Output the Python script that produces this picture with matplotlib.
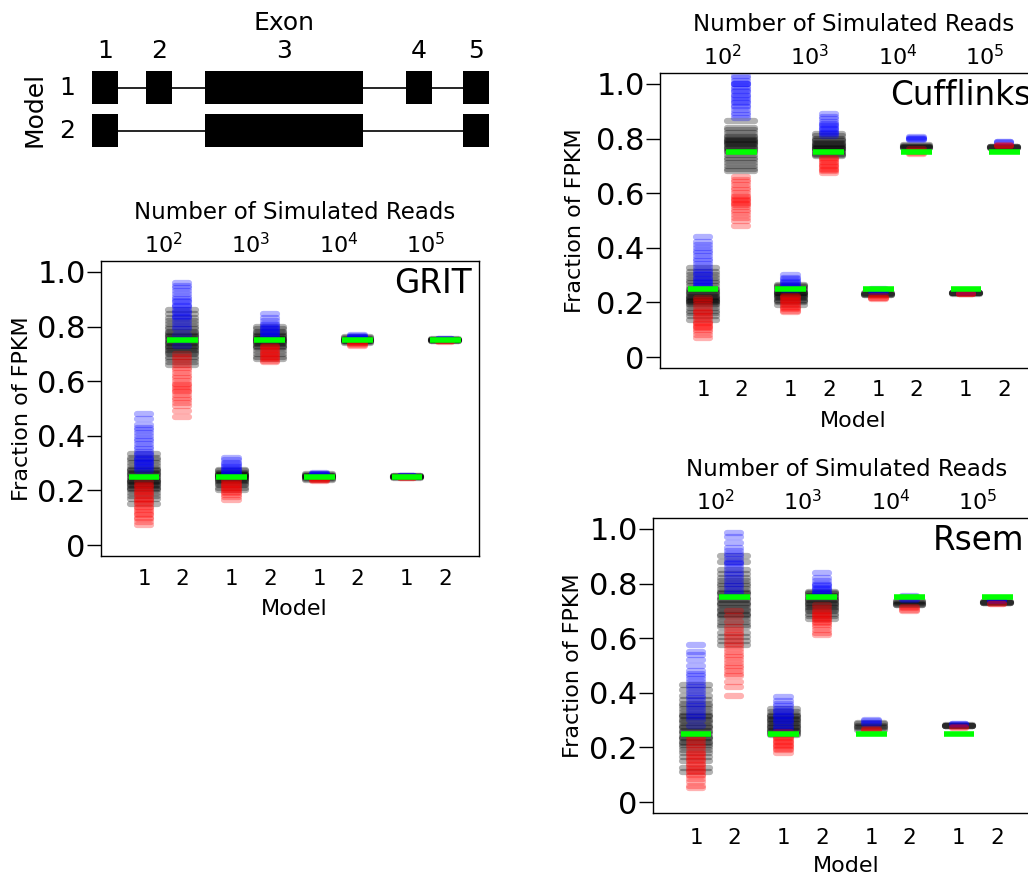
import numpy as np
import matplotlib.pyplot as plt

reads_exp = [2, 3, 4, 5]
model_names = ['1', '2']
truth = [0.25, 0.75]

# gene structure (relative coordinates)
exon_starts = [0, 54, 113, 314, 371]
exon_ends = [26, 80, 271, 340, 397]
model_exons = [[1, 2, 3, 4, 5], [1, 3, 5]]

# estimates (black), upper bounds (blue), lower bounds (red)
# order: 10^2 m1, 10^2 m2, 10^3 m1, 10^3 m2, 10^4 m1, 10^4 m2, 10^5 m1, 10^5 m2
grit_black = [
    [0.15, 0.17, 0.18, 0.19, 0.20, 0.205, 0.21, 0.215, 0.22, 0.225, 0.23, 0.232, 0.235, 0.24, 0.245,
     0.25, 0.255, 0.26, 0.265, 0.27, 0.275, 0.28, 0.29, 0.30, 0.31, 0.32, 0.335],
    [0.66, 0.67, 0.68, 0.69, 0.70, 0.705, 0.71, 0.715, 0.72, 0.725, 0.73, 0.735, 0.74, 0.745, 0.75,
     0.755, 0.76, 0.765, 0.77, 0.775, 0.78, 0.79, 0.80, 0.81, 0.82, 0.83, 0.845, 0.86],
    [0.20, 0.21, 0.22, 0.225, 0.23, 0.235, 0.24, 0.242, 0.245, 0.248, 0.25, 0.252, 0.255, 0.258,
     0.26, 0.265, 0.27, 0.275],
    [0.68, 0.69, 0.70, 0.71, 0.72, 0.725, 0.73, 0.735, 0.74, 0.743, 0.746, 0.75, 0.753, 0.756, 0.76,
     0.765, 0.77, 0.775, 0.78, 0.79, 0.80],
    [0.24, 0.243, 0.246, 0.248, 0.25, 0.252, 0.254, 0.257, 0.26],
    [0.74, 0.743, 0.746, 0.748, 0.75, 0.752, 0.754, 0.757, 0.76],
    [0.247, 0.248, 0.249, 0.25, 0.251, 0.252, 0.253],
    [0.747, 0.748, 0.749, 0.75, 0.751, 0.752, 0.753],
]
grit_blue = [
    [0.27, 0.28, 0.285, 0.29, 0.295, 0.30, 0.305, 0.31, 0.315, 0.32, 0.33, 0.335, 0.34, 0.35, 0.36,
     0.37, 0.38, 0.39, 0.40, 0.41, 0.42, 0.43, 0.44, 0.46, 0.48],
    [0.73, 0.75, 0.77, 0.79, 0.80, 0.81, 0.82, 0.83, 0.835, 0.84, 0.85, 0.855, 0.86, 0.87, 0.875,
     0.88, 0.89, 0.895, 0.90, 0.91, 0.92, 0.93, 0.94, 0.95, 0.96],
    [0.25, 0.255, 0.26, 0.265, 0.27, 0.275, 0.28, 0.285, 0.29, 0.295, 0.30, 0.31, 0.32],
    [0.75, 0.76, 0.765, 0.77, 0.775, 0.78, 0.785, 0.79, 0.795, 0.80, 0.805, 0.81, 0.82, 0.83, 0.845],
    [0.255, 0.258, 0.26, 0.262, 0.265],
    [0.755, 0.758, 0.76, 0.763, 0.767, 0.77],
    [0.252, 0.253, 0.254],
    [0.752, 0.754, 0.755],
]
grit_red = [
    [0.075, 0.085, 0.095, 0.10, 0.11, 0.115, 0.12, 0.13, 0.135, 0.14, 0.15, 0.155, 0.16, 0.165, 0.17,
     0.18, 0.185, 0.19, 0.195, 0.20, 0.21, 0.215, 0.22, 0.23],
    [0.47, 0.49, 0.51, 0.52, 0.53, 0.54, 0.55, 0.56, 0.565, 0.57, 0.58, 0.585, 0.59, 0.60, 0.61,
     0.62, 0.63, 0.64, 0.65, 0.66, 0.67, 0.68, 0.69, 0.70],
    [0.165, 0.175, 0.185, 0.19, 0.195, 0.20, 0.205, 0.21, 0.215, 0.22, 0.225, 0.23, 0.24],
    [0.67, 0.675, 0.68, 0.685, 0.69, 0.695, 0.70, 0.705, 0.71, 0.715, 0.72, 0.725, 0.73],
    [0.235, 0.238, 0.24, 0.242, 0.245],
    [0.73, 0.733, 0.736, 0.74, 0.743],
    [0.246, 0.247, 0.248],
    [0.745, 0.746, 0.747],
]

cuff_black = [
    [0.135, 0.15, 0.16, 0.17, 0.18, 0.19, 0.195, 0.20, 0.203, 0.206, 0.21, 0.213, 0.216, 0.22, 0.225,
     0.23, 0.235, 0.24, 0.245, 0.25, 0.26, 0.27, 0.28, 0.29, 0.30, 0.31, 0.325],
    [0.68, 0.69, 0.70, 0.71, 0.72, 0.73, 0.74, 0.75, 0.755, 0.76, 0.765, 0.77, 0.775, 0.78, 0.783,
     0.786, 0.79, 0.795, 0.80, 0.805, 0.81, 0.82, 0.83, 0.84, 0.865],
    [0.19, 0.20, 0.205, 0.21, 0.215, 0.22, 0.223, 0.226, 0.23, 0.233, 0.236, 0.24, 0.245, 0.25,
     0.255, 0.26, 0.265],
    [0.735, 0.74, 0.745, 0.75, 0.755, 0.76, 0.763, 0.766, 0.77, 0.773, 0.776, 0.78, 0.785, 0.79,
     0.795, 0.80, 0.81, 0.815],
    [0.226, 0.228, 0.23, 0.232, 0.234],
    [0.764, 0.766, 0.768, 0.77, 0.772, 0.775],
    [0.232, 0.233, 0.234, 0.235, 0.236],
    [0.766, 0.767, 0.768, 0.769, 0.77],
]
cuff_blue = [
    [0.255, 0.26, 0.265, 0.27, 0.275, 0.28, 0.285, 0.29, 0.30, 0.305, 0.31, 0.32, 0.33, 0.34, 0.35,
     0.36, 0.37, 0.38, 0.39, 0.40, 0.41, 0.42, 0.44],
    [0.875, 0.885, 0.895, 0.905, 0.915, 0.92, 0.93, 0.935, 0.94, 0.95, 0.955, 0.96, 0.97, 0.975,
     0.98, 0.99, 1.0, 1.0, 1.0, 1.01, 1.02, 1.03],
    [0.245, 0.25, 0.255, 0.26, 0.265, 0.27, 0.275, 0.28, 0.285, 0.29, 0.30],
    [0.81, 0.815, 0.82, 0.825, 0.83, 0.835, 0.84, 0.845, 0.85, 0.855, 0.86, 0.87, 0.88, 0.89],
    [0.24, 0.243, 0.246, 0.25],
    [0.795, 0.798, 0.80, 0.803, 0.806],
    [0.236, 0.237, 0.238],
    [0.785, 0.787, 0.789],
]
cuff_red = [
    [0.07, 0.08, 0.09, 0.10, 0.105, 0.11, 0.115, 0.12, 0.125, 0.13, 0.14, 0.145, 0.15, 0.16, 0.165,
     0.17, 0.18, 0.19, 0.20, 0.21, 0.215],
    [0.48, 0.50, 0.51, 0.52, 0.53, 0.54, 0.55, 0.555, 0.56, 0.565, 0.57, 0.575, 0.58, 0.585, 0.59,
     0.60, 0.61, 0.62, 0.63, 0.64, 0.65, 0.66],
    [0.165, 0.17, 0.175, 0.18, 0.185, 0.19, 0.195, 0.20, 0.205, 0.21, 0.215, 0.22, 0.225],
    [0.675, 0.68, 0.685, 0.69, 0.695, 0.70, 0.705, 0.71, 0.715, 0.72, 0.725, 0.73],
    [0.212, 0.215, 0.218, 0.222],
    [0.745, 0.748, 0.752, 0.756, 0.76],
    [0.23, 0.231, 0.232],
    [0.772, 0.774, 0.776],
]

rsem_black = [
    [0.11, 0.125, 0.15, 0.165, 0.18, 0.19, 0.20, 0.21, 0.215, 0.22, 0.23, 0.235, 0.24, 0.25, 0.255,
     0.26, 0.27, 0.275, 0.28, 0.29, 0.295, 0.30, 0.31, 0.315, 0.32, 0.33, 0.34, 0.35, 0.36, 0.375,
     0.39, 0.41, 0.43],
    [0.575, 0.59, 0.605, 0.62, 0.64, 0.65, 0.66, 0.67, 0.68, 0.685, 0.69, 0.70, 0.705, 0.71, 0.72,
     0.725, 0.73, 0.74, 0.745, 0.75, 0.76, 0.765, 0.77, 0.78, 0.79, 0.80, 0.81, 0.82, 0.835, 0.85,
     0.88, 0.90],
    [0.245, 0.25, 0.255, 0.26, 0.265, 0.27, 0.275, 0.28, 0.285, 0.29, 0.295, 0.30, 0.305, 0.31,
     0.315, 0.32, 0.33, 0.34],
    [0.67, 0.68, 0.69, 0.70, 0.705, 0.71, 0.715, 0.72, 0.725, 0.73, 0.735, 0.74, 0.745, 0.75, 0.755,
     0.76, 0.765, 0.77],
    [0.265, 0.27, 0.275, 0.28, 0.285, 0.29],
    [0.72, 0.723, 0.726, 0.73, 0.733, 0.736],
    [0.277, 0.278, 0.279, 0.28, 0.281],
    [0.728, 0.729, 0.73, 0.731, 0.732],
]
rsem_blue = [
    [0.28, 0.30, 0.31, 0.32, 0.33, 0.34, 0.35, 0.36, 0.37, 0.38, 0.39, 0.40, 0.41, 0.42, 0.43, 0.44,
     0.45, 0.46, 0.47, 0.48, 0.50, 0.52, 0.54, 0.55, 0.575],
    [0.76, 0.77, 0.78, 0.79, 0.80, 0.81, 0.82, 0.83, 0.84, 0.85, 0.86, 0.87, 0.875, 0.88, 0.89, 0.90,
     0.91, 0.92, 0.93, 0.95, 0.97, 0.985],
    [0.265, 0.27, 0.28, 0.29, 0.295, 0.30, 0.31, 0.315, 0.32, 0.33, 0.335, 0.34, 0.35, 0.36, 0.37,
     0.385],
    [0.755, 0.76, 0.765, 0.77, 0.775, 0.78, 0.785, 0.79, 0.795, 0.80, 0.81, 0.82, 0.84],
    [0.285, 0.29, 0.295, 0.30],
    [0.74, 0.745, 0.75, 0.755],
    [0.283, 0.285, 0.287],
    [0.735, 0.737, 0.739],
]
rsem_red = [
    [0.05, 0.06, 0.075, 0.085, 0.095, 0.10, 0.11, 0.115, 0.12, 0.13, 0.135, 0.14, 0.15, 0.155, 0.16,
     0.17, 0.175, 0.18, 0.19, 0.20, 0.21, 0.22, 0.23, 0.24],
    [0.39, 0.42, 0.44, 0.46, 0.47, 0.48, 0.49, 0.50, 0.51, 0.52, 0.53, 0.54, 0.55, 0.56, 0.57, 0.58,
     0.59, 0.60, 0.61, 0.62, 0.63, 0.64, 0.66, 0.68, 0.70],
    [0.18, 0.19, 0.195, 0.20, 0.205, 0.21, 0.215, 0.22, 0.225, 0.23, 0.235, 0.24, 0.25, 0.255],
    [0.61, 0.62, 0.63, 0.64, 0.65, 0.655, 0.66, 0.665, 0.67, 0.675, 0.68, 0.685, 0.69, 0.695, 0.70,
     0.71, 0.72],
    [0.262, 0.265, 0.268],
    [0.70, 0.705, 0.71, 0.715],
    [0.272, 0.274],
    [0.724, 0.726],
]

W, H = 1028, 877
fig = plt.figure(figsize=(W / 100, H / 100), dpi=100)

# ---- gene model diagram ----
gax = fig.add_axes([92 / W, 1 - 160 / H, 397 / W, 100 / H])
gax.set_xlim(0, 397)
gax.set_ylim(2.686, 0.36)
gax.axis('off')
for row, exons in enumerate(model_exons, start=1):
    for a, b in zip(exons[:-1], exons[1:]):
        gax.plot([exon_ends[a - 1], exon_starts[b - 1]], [row, row], color='black', lw=1.2, zorder=1)
    for e in exons:
        gax.barh(row, exon_ends[e - 1] - exon_starts[e - 1], left=exon_starts[e - 1],
                 height=0.767, color='black', zorder=2)
    gax.text(-25, row, str(row), fontsize=18, ha='center', va='center', clip_on=False)
for i in range(len(exon_starts)):
    gax.text((exon_starts[i] + exon_ends[i]) / 2, 0.14, str(i + 1), fontsize=18,
             ha='center', va='center', clip_on=False)
gax.text((exon_starts[2] + exon_ends[2]) / 2, -0.5, 'Exon', fontsize=18,
         ha='center', va='center', clip_on=False)
gax.text(-57, 1.5, 'Model', fontsize=18, rotation=90, ha='center', va='center', clip_on=False)

ALPHA = 0.3


def draw_panel(left, top, name, black, blue, red, ylab_x, xpad):
    ax = fig.add_axes([left / W, 1 - (top + 295) / H, 378 / W, 295 / H])
    pos = []
    for i in range(8):
        g, m = divmod(i, 2)
        x = g * 2.3 + m
        pos.append(x)
        lc = ax.hlines(black[i], x - 0.365, x + 0.365, colors='black', lw=4.5, alpha=ALPHA)
        lc.set_capstyle('round')
        lc = ax.hlines(blue[i], x - 0.19, x + 0.19, colors='#0000ff', lw=4.5, alpha=ALPHA)
        lc.set_capstyle('round')
        lc = ax.hlines(red[i], x - 0.19, x + 0.19, colors='#ff0000', lw=4.5, alpha=ALPHA)
        lc.set_capstyle('round')
        ax.hlines(truth[m], x - 0.405, x + 0.405, colors='#00ff00', lw=4, zorder=3)
    ax.set_xlim(-1.13, 8.79)
    ax.set_ylim(-0.04, 1.04)
    ax.set_yticks([0, 0.2, 0.4, 0.6, 0.8, 1.0])
    ax.set_yticklabels(['0', '0.2', '0.4', '0.6', '0.8', '1.0'])
    ax.tick_params(axis='y', length=10, width=1, labelsize=22, pad=1)
    ax.set_xticks(pos)
    ax.set_xticklabels(model_names * 4)
    ax.tick_params(axis='x', length=0, labelsize=15.5, pad=xpad)
    for s in ax.spines.values():
        s.set_linewidth(1)
    mid = (pos[0] + pos[1] + pos[6] + pos[7]) / 4
    tr = ax.get_xaxis_transform()
    for g, e in enumerate(reads_exp):
        ax.text((pos[2 * g] + pos[2 * g + 1]) / 2, 1.027, r'$10^{%d}$' % e, fontsize=16,
                ha='center', va='baseline', transform=tr)
    ax.text(mid, 1.163, 'Number of Simulated Reads', fontsize=16.5, ha='center', va='center',
            transform=tr)
    ax.text(mid, -0.2, 'Model', fontsize=16, ha='center', va='baseline', transform=tr)
    ax.text(8.79 - 0.19, 0.892, name, fontsize=23.5, ha='right', va='baseline',
            transform=tr)
    ax.text(ylab_x, 0.5, 'Fraction of FPKM', fontsize=16, rotation=90, ha='center',
            va='center', transform=ax.transAxes)
    return ax


draw_panel(101, 261, 'GRIT', grit_black, grit_blue, grit_red, -0.209, 9.5)
draw_panel(660, 73, 'Cufflinks', cuff_black, cuff_blue, cuff_red, -0.225, 8.5)
draw_panel(653, 518, 'Rsem', rsem_black, rsem_blue, rsem_red, -0.212, 11)

fig.savefig('out.png', dpi=100)
